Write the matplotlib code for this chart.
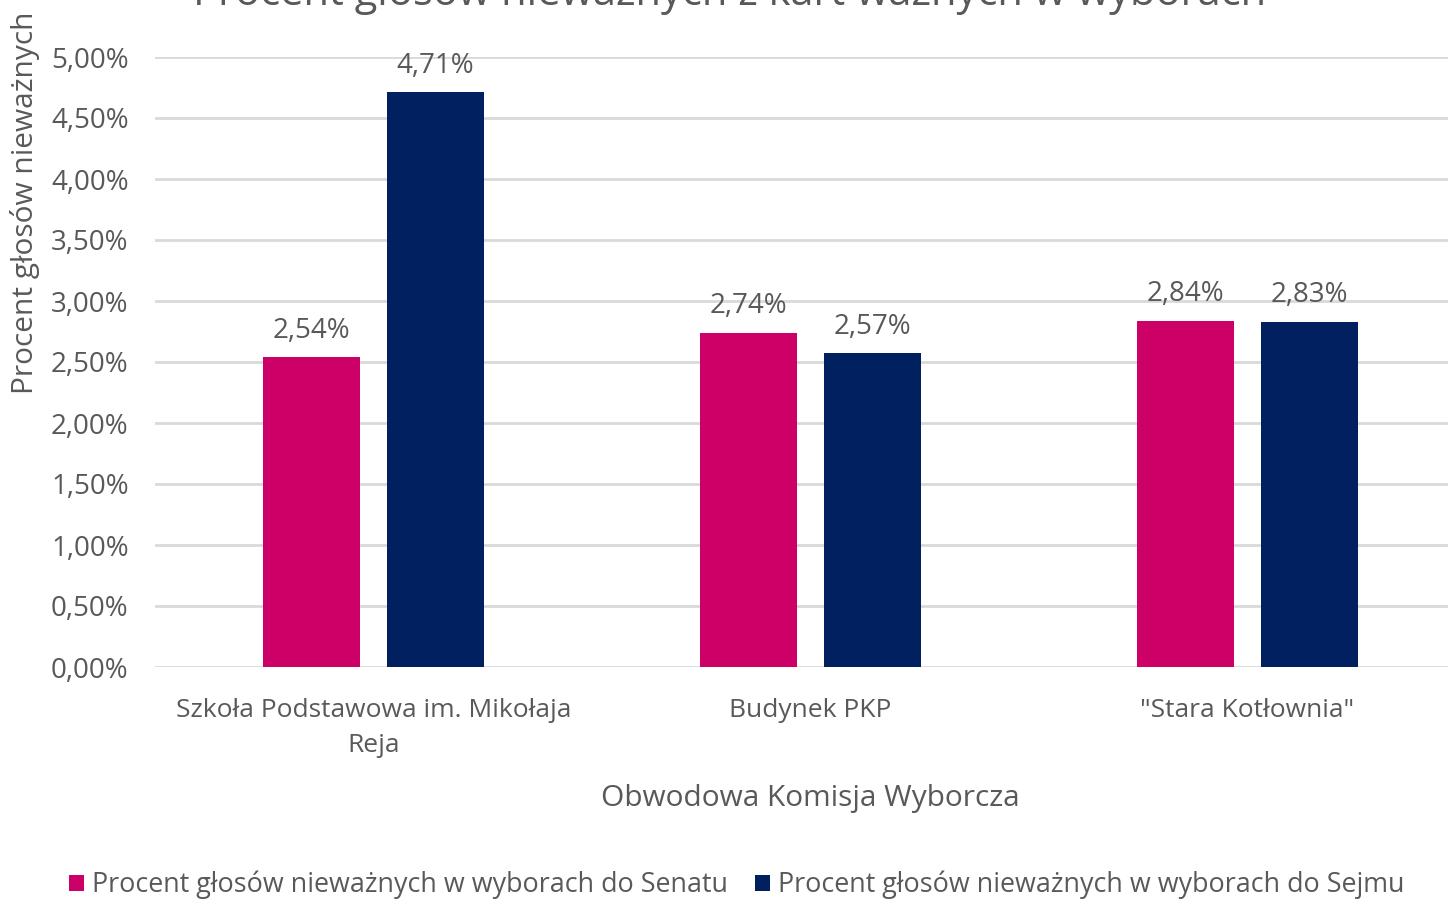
import numpy as np
import matplotlib
matplotlib.use("Agg")
import matplotlib.pyplot as plt
from matplotlib.ticker import FuncFormatter

plt.rcParams['font.family'] = ['Open Sans', 'DejaVu Sans']

# data
komisje = ['Szkoła Podstawowa im. Mikołaja\nReja', 'Budynek PKP', '"Stara Kotłownia"']
senat = [2.54, 2.74, 2.84]
sejm = [4.71, 2.57, 2.83]
series_names = ['Procent głosów nieważnych w wyborach do Senatu',
                'Procent głosów nieważnych w wyborach do Sejmu']
colors = ['#CC0066', '#002060']
txt = '#595959'

fig = plt.figure(figsize=(14.48, 9.01), dpi=100)
ax = fig.add_axes([155 / 1448, 234 / 901, 1311 / 1448, 610 / 901])

x = np.arange(len(komisje))
w = 0.224
off = 0.142
b1 = ax.bar(x - off, senat, w, color=colors[0], label=series_names[0], zorder=3)
b2 = ax.bar(x + off, sejm, w, color=colors[1], label=series_names[1], zorder=3)

for bars, vals in [(b1, senat), (b2, sejm)]:
    for r, v in zip(bars, vals):
        ax.annotate(f'{v:.2f}%'.replace('.', ','), (r.get_x() + r.get_width() / 2, v),
                    xytext=(0, 9), textcoords='offset points', ha='center', va='bottom',
                    fontsize=20, color=txt)

ax.set_xlim(-0.5, 2.5)
ax.set_ylim(0, 5)
ax.set_yticks(np.arange(0, 5.01, 0.5))
ax.yaxis.set_major_formatter(FuncFormatter(lambda v, p: f'{v:.2f}%'.replace('.', ',')))
ax.set_xticks(x)
ax.set_xticklabels(komisje, linespacing=1.55)
ax.tick_params(length=0, labelcolor=txt)
ax.tick_params(axis='x', pad=22, labelsize=19)
ax.tick_params(axis='y', pad=19, labelsize=20)
ax.grid(axis='y', color='#d9d9d9', lw=2, zorder=0)
for s in ax.spines.values():
    s.set_visible(False)

ax.set_xlabel('Obwodowa Komisja Wyborcza', fontsize=21.5, color=txt, labelpad=19)
fig.text(25 / 1448, 1 - 203 / 901, 'Procent głosów nieważnych', rotation=90,
         ha='center', va='center', fontsize=21.5, color=txt)
fig.text(730 / 1448, 1 - 5 / 901, 'Procent głosów nieważnych z kart ważnych w wyborach',
         ha='center', va='baseline', fontsize=30, color=txt)

fig.legend(loc='center', bbox_to_anchor=(737 / 1448, 1 - 885 / 901), ncol=2, frameon=False,
           fontsize=19.4, labelcolor=txt, handlelength=0.55, handleheight=0.55,
           handletextpad=0.3, columnspacing=1.0)

fig.savefig('out.png', dpi=100)
